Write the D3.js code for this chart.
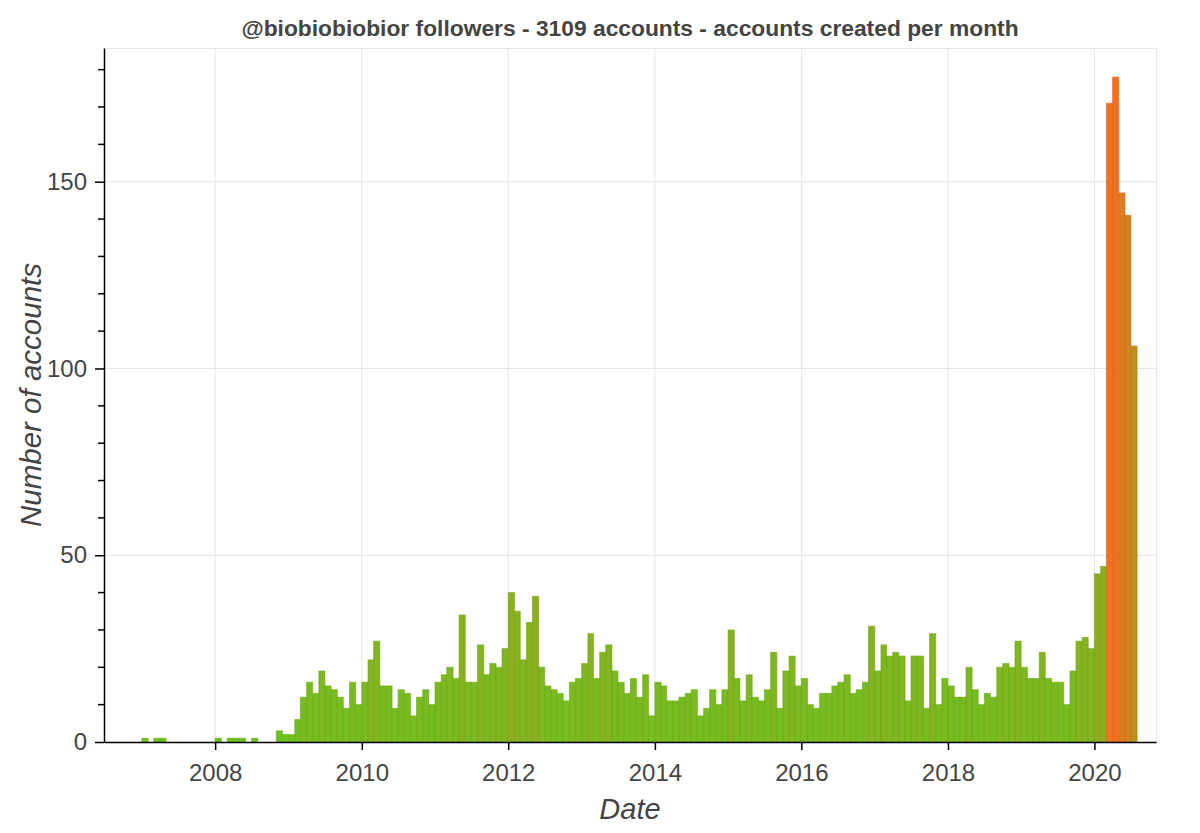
<!DOCTYPE html>
<html>
<head>
<meta charset="utf-8">
<script src="https://cdn.jsdelivr.net/npm/d3@7/dist/d3.min.js"></script>
<style>
  html, body { margin: 0; padding: 0; background: #fff; }
  svg { display: block; }
</style>
</head>
<body>
<svg id="chart" width="1200" height="833"></svg>
<script>
// ---- data ----
const titleText = "@biobiobiobior followers - 3109 accounts - accounts created per month";
const xLabel = "Date";
const yLabel = "Number of accounts";
const firstMonth = [2007, 0];   // Jan 2007
// accounts created per month, Jan 2007 .. Jul 2020
const counts2007 = [1, 0, 1, 1, 0, 0, 0, 0, 0, 0, 0, 0];
const counts2008 = [1, 0, 1, 1, 1, 0, 1, 0, 0, 0, 3, 2];
const counts2009 = [2, 6, 12, 16, 13, 19, 15, 14, 12, 9, 16, 10];
const counts2010 = [16, 22, 27, 15, 15, 9, 14, 13, 7, 12, 14, 10];
const counts2011 = [16, 18, 20, 17, 34, 16, 16, 26, 18, 21, 20, 25];
const counts2012 = [40, 35, 22, 32, 39, 20, 15, 14, 13, 11, 16, 17];
const counts2013 = [21, 29, 17, 24, 26, 19, 16, 13, 17, 12, 18, 7];
const counts2014 = [16, 15, 11, 11, 12, 13, 14, 7, 9, 14, 10, 14];
const counts2015 = [30, 17, 11, 18, 12, 11, 14, 24, 9, 19, 23, 15];
const counts2016 = [17, 10, 9, 13, 13, 15, 16, 18, 13, 14, 16, 31];
const counts2017 = [19, 26, 23, 24, 23, 11, 23, 23, 9, 29, 10, 17];
const counts2018 = [15, 12, 12, 20, 14, 10, 13, 12, 20, 21, 20, 27];
const counts2019 = [20, 17, 17, 24, 17, 16, 16, 10, 19, 27, 28, 25];
const counts2020 = [45, 47, 171, 178, 147, 141, 106];
const yMajorTicks = [0, 50, 100, 150];
const xTickYears = [2008, 2010, 2012, 2014, 2016, 2018, 2020];

const counts = [].concat(counts2007, counts2008, counts2009, counts2010, counts2011,
  counts2012, counts2013, counts2014, counts2015, counts2016, counts2017,
  counts2018, counts2019, counts2020);
const data = counts.map((v, i) => ({
  start: new Date(firstMonth[0], firstMonth[1] + i, 1),
  end: new Date(firstMonth[0], firstMonth[1] + i + 1, 1),
  value: v
}));

// ---- layout ----
const mLeft = 104, mRight = 1156, mTop = 48, mBottom = 742;
const svg = d3.select("#chart");

const x = d3.scaleTime()
  .domain([new Date(2006, 5, 26), new Date(2020, 10, 3)])
  .range([mLeft, mRight]);
const y = d3.scaleLinear().domain([0, 185.8]).range([mBottom, mTop]);
const color = d3.scaleLinear().domain([0, 178]).range(["#62bb0e", "#f1640f"]);

// grid
const grid = svg.append("g");
grid.selectAll("line.gx").data(xTickYears).join("line")
  .attr("x1", d => x(new Date(d, 0, 1))).attr("x2", d => x(new Date(d, 0, 1)))
  .attr("y1", mTop).attr("y2", mBottom)
  .attr("stroke", "#e5e5e5").attr("stroke-width", 1);
grid.selectAll("line.gy").data(yMajorTicks.filter(d => d > 0)).join("line")
  .attr("x1", mLeft).attr("x2", mRight)
  .attr("y1", d => y(d)).attr("y2", d => y(d))
  .attr("stroke", "#e5e5e5").attr("stroke-width", 1);
// outline (top & right)
svg.append("path")
  .attr("d", `M${mLeft},${mTop + 0.5}H${mRight + 0.5}V${mBottom}`)
  .attr("fill", "none").attr("stroke", "#e5e5e5").attr("stroke-width", 1.2);

// bars
svg.append("g").selectAll("rect").data(data.filter(d => d.value > 0)).join("rect")
  .attr("x", d => x(d.start))
  .attr("width", d => x(d.end) - x(d.start))
  .attr("y", d => y(d.value))
  .attr("height", d => y(0) - y(d.value))
  .attr("fill", d => color(d.value))
  .attr("fill-opacity", 0.92)
  .attr("stroke", d => d3.color(color(d.value)).darker(0.15))
  .attr("stroke-opacity", 0.6)
  .attr("stroke-width", 1);

// x axis
const xAxis = d3.axisBottom(x)
  .tickValues(xTickYears.map(yy => new Date(yy, 0, 1)))
  .tickFormat(d3.timeFormat("%Y"))
  .tickSizeInner(8).tickSizeOuter(0).tickPadding(14);
const gx = svg.append("g").attr("transform", `translate(0,${mBottom})`).call(xAxis);
gx.select(".domain").attr("stroke", "#000").attr("stroke-width", 1.5);
gx.selectAll(".tick line").attr("stroke", "#000").attr("stroke-width", 1.5);
gx.selectAll(".tick text").attr("font-family", "Liberation Sans, Arial, sans-serif")
  .attr("font-size", 24).attr("fill", "#444");

// y axis (minor ticks)
const yMinor = d3.range(0, 181, 10).filter(v => !yMajorTicks.includes(v));
svg.append("g").selectAll("line").data(yMinor).join("line")
  .attr("x1", mLeft - 6).attr("x2", mLeft)
  .attr("y1", d => y(d)).attr("y2", d => y(d))
  .attr("stroke", "#000").attr("stroke-width", 1.5);
const yAxis = d3.axisLeft(y).tickValues(yMajorTicks).tickFormat(d3.format("d"))
  .tickSizeInner(9).tickSizeOuter(0).tickPadding(8);
const gy = svg.append("g").attr("transform", `translate(${mLeft},0)`).call(yAxis);
gy.select(".domain").attr("stroke", "#000").attr("stroke-width", 1.5);
gy.selectAll(".tick line").attr("stroke", "#000").attr("stroke-width", 1.5);
gy.selectAll(".tick text").attr("font-family", "Liberation Sans, Arial, sans-serif")
  .attr("font-size", 24).attr("fill", "#444");

// title
svg.append("text")
  .attr("x", (mLeft + mRight) / 2).attr("y", 36)
  .attr("text-anchor", "middle")
  .attr("font-family", "Liberation Sans, Arial, sans-serif")
  .attr("font-weight", "bold").attr("font-size", 22.8).attr("fill", "#444")
  .text(titleText);

// axis labels
svg.append("text")
  .attr("x", (mLeft + mRight) / 2).attr("y", 819)
  .attr("text-anchor", "middle")
  .attr("font-family", "Liberation Sans, Arial, sans-serif")
  .attr("font-style", "italic").attr("font-size", 29).attr("fill", "#444")
  .text(xLabel);
svg.append("text")
  .attr("transform", `translate(41,${(mTop + mBottom) / 2}) rotate(-90)`)
  .attr("text-anchor", "middle")
  .attr("font-family", "Liberation Sans, Arial, sans-serif")
  .attr("font-style", "italic").attr("font-size", 29.5).attr("fill", "#444")
  .text(yLabel);
</script>
</body>
</html>
